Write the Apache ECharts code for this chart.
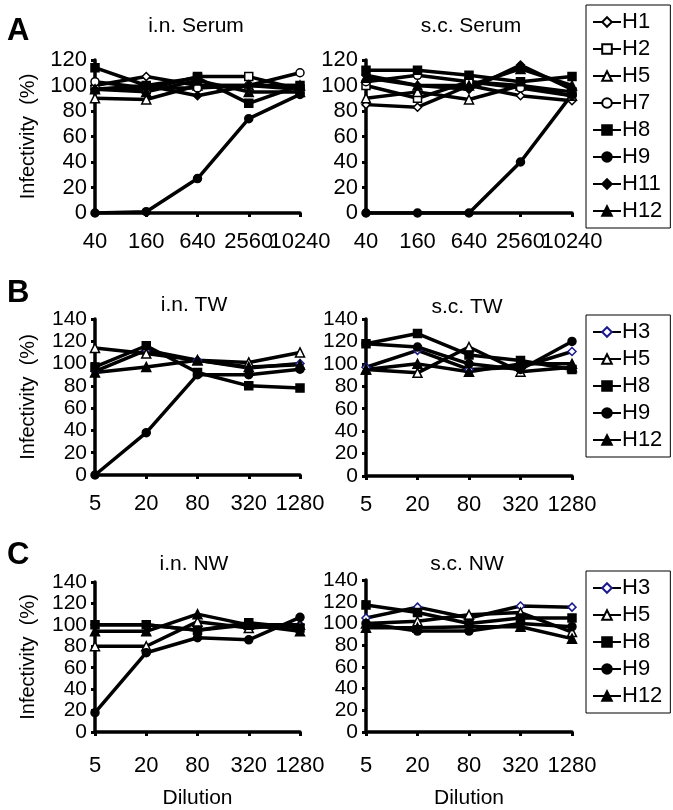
<!DOCTYPE html>
<html>
<head>
<meta charset="utf-8">
<script src="https://cdn.jsdelivr.net/npm/echarts@6/dist/echarts.min.js"></script>
<style>html,body{margin:0;padding:0;background:#fff}#c{width:673px;height:810px}</style>
</head>
<body>
<div id="c"></div>
<script>
// ---- data ----
const serumDilution = ['40', '160', '640', '2560', '10240'];
const washDilution = ['5', '20', '80', '320', '1280'];
const serumNames = ['H1', 'H2', 'H5', 'H7', 'H8', 'H9', 'H11', 'H12'];
const washNames = ['H3', 'H5', 'H8', 'H9', 'H12'];

// i.n. Serum (rows follow serumNames)
const inSerum = [
  [100, 107, 100, 100, 100],
  [97, 97, 107, 107, 97],
  [90, 89, 100, 100, 100],
  [103, 98, 98, 100, 110],
  [114, 100, 106, 86, 100],
  [0, 1, 27, 74, 93],
  [97, 100, 92, 100, 97],
  [97, 95, 104, 95, 95]
];
// s.c. Serum
const scSerum = [
  [85, 83, 100, 92, 88],
  [100, 90, 103, 100, 95],
  [90, 95, 89, 100, 92],
  [103, 108, 103, 98, 92],
  [112, 112, 108, 103, 107],
  [0, 0, 0, 40, 93],
  [108, 100, 97, 116, 97],
  [106, 100, 100, 113, 100]
];
// i.n. TW (rows follow washNames)
const inTW = [
  [93, 112, 103, 96, 100],
  [114, 109, 103, 101, 110],
  [97, 116, 92, 80, 78],
  [0, 38, 90, 90, 95],
  [92, 97, 103, 97, 99]
];
// s.c. TW
const scTW = [
  [97, 112, 95, 97, 111],
  [95, 92, 115, 93, 97],
  [118, 127, 108, 103, 95],
  [118, 115, 100, 95, 120],
  [95, 100, 93, 100, 100]
];
// i.n. NW
const inNW = [
  [100, 100, 95, 100, 100],
  [80, 80, 103, 97, 100],
  [100, 100, 95, 102, 97],
  [18, 74, 88, 86, 107],
  [94, 94, 110, 100, 94]
];
// s.c. NW
const scNW = [
  [105, 115, 105, 116, 115],
  [100, 102, 108, 110, 92],
  [117, 110, 100, 105, 105],
  [100, 93, 93, 100, 97],
  [96, 96, 97, 97, 86]
];

// ---- styles ----
const FONT = 'Liberation Sans, Arial, sans-serif';
const markerStyle = {
  H1: { symbol: 'diamond', fill: '#fff', edge: '#000' },
  H2: { symbol: 'rect', fill: '#fff', edge: '#000' },
  H3: { symbol: 'diamond', fill: '#fff', edge: '#1a1a8c' },
  H5: { symbol: 'triangle', fill: '#fff', edge: '#000' },
  H7: { symbol: 'circle', fill: '#fff', edge: '#000' },
  H8: { symbol: 'rect', fill: '#000', edge: '#000' },
  H9: { symbol: 'circle', fill: '#000', edge: '#000' },
  H11: { symbol: 'diamond', fill: '#000', edge: '#000' },
  H12: { symbol: 'triangle', fill: '#000', edge: '#000' }
};

const panels = [
  { title: 'i.n. Serum', cats: serumDilution, names: serumNames, data: inSerum, max: 120, grid: { left: 95, top: 60, width: 205, height: 153 }, yName: true, xName: false, cx: 196, ty: 26, xm: 18 },
  { title: 's.c. Serum', cats: serumDilution, names: serumNames, data: scSerum, max: 120, grid: { left: 366, top: 60, width: 206, height: 153 }, yName: false, xName: false, cx: 471, ty: 26, xm: 18 },
  { title: 'i.n. TW', cats: washDilution, names: washNames, data: inTW, max: 140, grid: { left: 95, top: 319, width: 205, height: 156 }, yName: true, xName: false, cx: 194, ty: 305, xm: 18 },
  { title: 's.c. TW', cats: washDilution, names: washNames, data: scTW, max: 140, grid: { left: 366, top: 319, width: 206, height: 157 }, yName: false, xName: false, cx: 467, ty: 307, xm: 18 },
  { title: 'i.n. NW', cats: washDilution, names: washNames, data: inNW, max: 140, grid: { left: 95, top: 582, width: 205, height: 150 }, yName: true, xName: true, cx: 194, ty: 564, xm: 23 },
  { title: 's.c. NW', cats: washDilution, names: washNames, data: scNW, max: 140, grid: { left: 366, top: 580, width: 206, height: 152 }, yName: false, xName: true, cx: 467, ty: 564, xm: 23 }
];

const grids = [], xAxes = [], yAxes = [], series = [], graphics = [];
const axisLine = { show: true, lineStyle: { color: '#000', width: 3.5 } };
const axisTick = { show: true, inside: false, length: 4, lineStyle: { color: '#000', width: 3 } };

panels.forEach((p, i) => {
  grids.push(Object.assign({ containLabel: false }, p.grid));
  xAxes.push({
    type: 'category', gridIndex: i, data: p.cats, boundaryGap: false,
    axisLine, axisTick: Object.assign({ alignWithLabel: true }, axisTick),
    axisLabel: { interval: 0, color: '#000', fontFamily: FONT, fontSize: 22, margin: p.xm, showMinLabel: true, showMaxLabel: true },
    splitLine: { show: false },
    name: p.xName ? 'Dilution' : '', nameLocation: 'middle', nameGap: 56,
    nameTextStyle: { color: '#000', fontFamily: FONT, fontSize: 21 }
  });
  yAxes.push({
    type: 'value', gridIndex: i, min: 0, max: p.max, interval: 20,
    axisLine, axisTick,
    axisLabel: { interval: 0, color: '#000', fontFamily: FONT, fontSize: p.max === 140 ? 21 : 22, lineHeight: 18, margin: 8, showMinLabel: true, showMaxLabel: true, hideOverlap: false },
    splitLine: { show: false },
    name: p.yName ? 'Infectivity  (%)' : '', nameLocation: 'middle', nameRotate: 90, nameGap: 57,
    nameTextStyle: { color: '#000', fontFamily: FONT, fontSize: 20 }
  });
  p.names.forEach((n, k) => {
    const m = markerStyle[n];
    series.push({
      name: n, type: 'line', xAxisIndex: i, yAxisIndex: i,
      data: p.data[k], symbol: m.symbol, symbolSize: m.symbol === 'triangle' ? 9 : 8,
      lineStyle: { color: '#000', width: 3.5 },
      itemStyle: { color: m.fill, borderColor: m.edge, borderWidth: 1.5 },
      emphasis: { disabled: true }, animation: false
    });
  });
  graphics.push({
    type: 'text', x: p.cx, y: p.ty,
    style: { text: p.title, fill: '#000', font: '21px ' + FONT, textAlign: 'center', textVerticalAlign: 'middle' }
  });
});

[['A', 31], ['B', 293], ['C', 555]].forEach(([t, y]) => {
  graphics.push({ type: 'text', x: 7, y: y, style: { text: t, fill: '#000', font: 'bold 31px ' + FONT, textVerticalAlign: 'middle' } });
});

function legendFor(names, top) {
  return {
    data: names, orient: 'vertical', left: 586, top: top,
    itemWidth: 28, itemHeight: 12, itemGap: 5, padding: [6, 8, 6, 6],
    borderColor: '#000', borderWidth: 1, selectedMode: false,
    textStyle: { color: '#000', fontFamily: FONT, fontSize: 22, padding: [0, 0, 0, -4] }
  };
}

const chart = echarts.init(document.getElementById('c'), null, { renderer: 'canvas' });
chart.setOption({
  animation: false,
  backgroundColor: '#fff',
  grid: grids, xAxis: xAxes, yAxis: yAxes, series: series,
  legend: [legendFor(serumNames, 5), legendFor(washNames, 315), legendFor(washNames, 571)],
  graphic: graphics
});
</script>
</body>
</html>
